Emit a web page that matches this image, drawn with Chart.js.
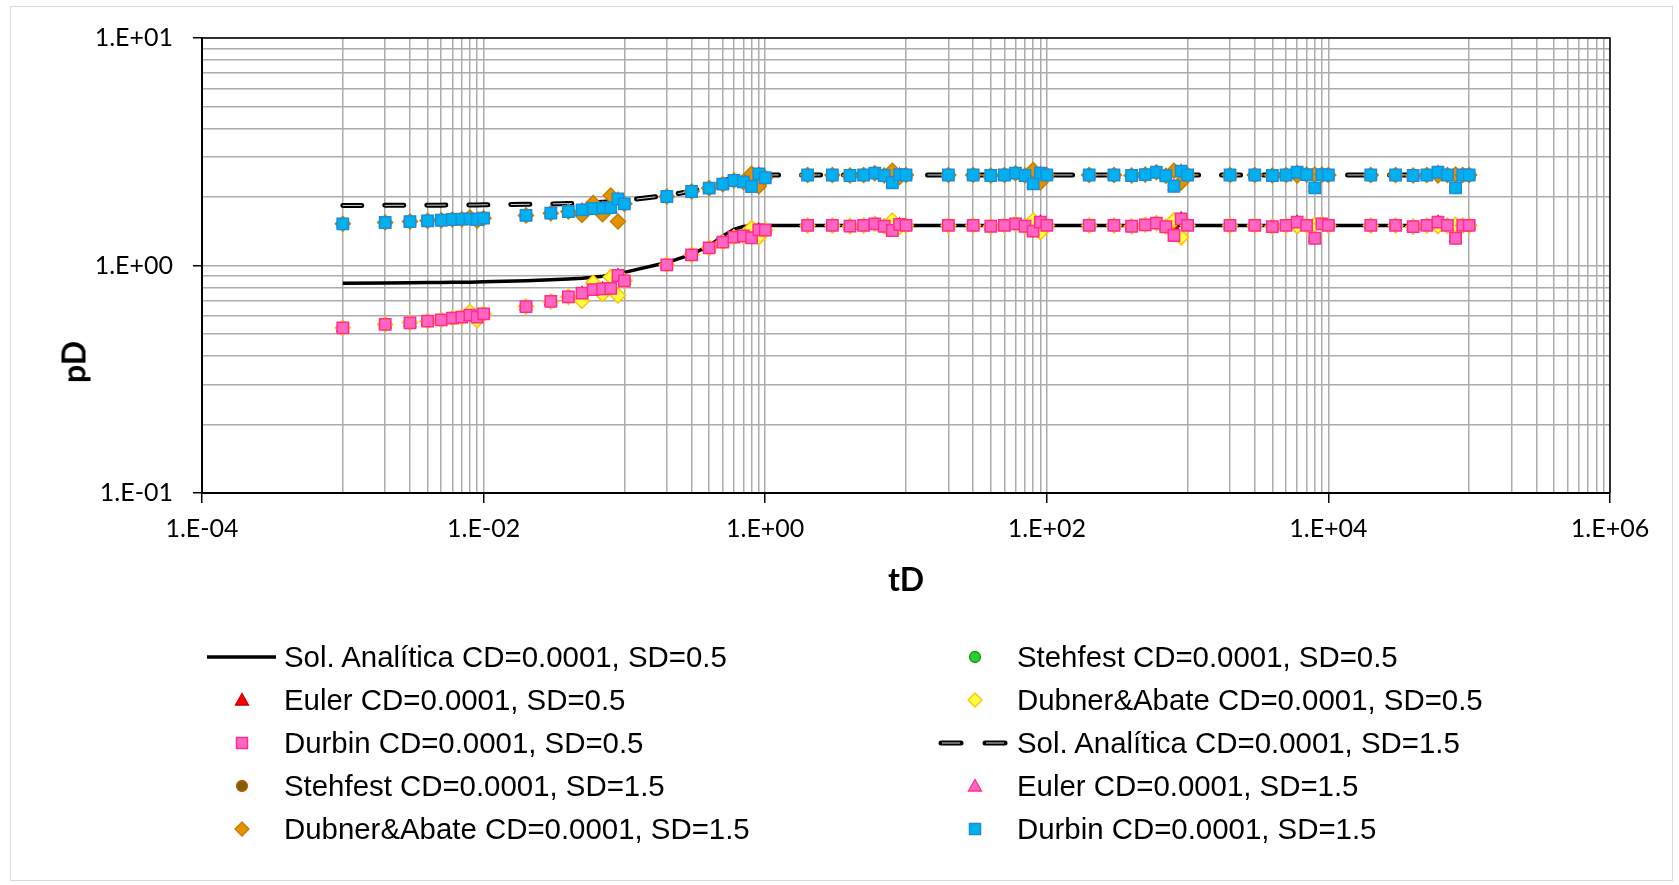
<!DOCTYPE html>
<html>
<head>
<meta charset="utf-8">
<script src="https://cdn.jsdelivr.net/npm/chart.js@4/dist/chart.umd.min.js"></script>
<style>
  html, body { margin: 0; padding: 0; background: #fff; }
  #wrap { position: relative; width: 1679px; height: 885px; overflow: hidden; }
  #frame { position: absolute; left: 10px; top: 6px; width: 1663px; height: 875px; border: 1px solid #d9d9d9; box-sizing: border-box; }
  #chart { position: absolute; left: 0; top: 0; }
  #ytitle { position: absolute; left: 73px; top: 362px; font: bold 32px Lato, sans-serif; color: #000;
            transform: translate(-50%, -50%) rotate(-90deg); white-space: nowrap; }
  .item { position: absolute; height: 40px; display: flex; align-items: center; white-space: nowrap;
          font: 29.4px "Liberation Sans", Arial, sans-serif; color: #000; }
  .item svg { flex: none; margin-right: 4px; }
</style>
</head>
<body>
<div id="wrap">
  <div id="frame"></div>
  <canvas id="chart" width="1679" height="885"></canvas>
  <div id="ytitle">pD</div>
  <div id="legend"></div>
</div>
<script>
// dimensionless time, shared by every series
const tD = [
  0.001, 0.002, 0.003, 0.004, 0.005, 0.006, 0.007, 0.008, 0.009,
  0.01, 0.02, 0.03, 0.04, 0.05, 0.06, 0.07, 0.08, 0.09,
  0.1, 0.2, 0.3, 0.4, 0.5, 0.6, 0.7, 0.8, 0.9,
  1, 2, 3, 4, 5, 6, 7, 8, 9,
  10, 20, 30, 40, 50, 60, 70, 80, 90,
  100, 200, 300, 400, 500, 600, 700, 800, 900,
  1000, 2000, 3000, 4000, 5000, 6000, 7000, 8000, 9000,
  10000, 20000, 30000, 40000, 50000, 60000, 70000, 80000, 90000,
  100000
];

const analiticaSD05 = [
  0.836, 0.838, 0.840, 0.841, 0.842, 0.843, 0.844, 0.845, 0.846,
  0.848, 0.857, 0.865, 0.872, 0.879, 0.887, 0.896, 0.907, 0.920,
  0.933, 1.030, 1.120, 1.220, 1.350, 1.440, 1.485, 1.497, 1.500,
  1.5, 1.5, 1.5, 1.5, 1.5, 1.5, 1.5, 1.5, 1.5,
  1.5, 1.5, 1.5, 1.5, 1.5, 1.5, 1.5, 1.5, 1.5,
  1.5, 1.5, 1.5, 1.5, 1.5, 1.5, 1.5, 1.5, 1.5,
  1.5, 1.5, 1.5, 1.5, 1.5, 1.5, 1.5, 1.5, 1.5,
  1.5, 1.5, 1.5, 1.5, 1.5, 1.5, 1.5, 1.5, 1.5,
  1.5
];
const stehfestSD05 = [
  0.532, 0.551, 0.560, 0.569, 0.577, 0.587, 0.593, 0.605, 0.593,
  0.613, 0.660, 0.695, 0.728, 0.756, 0.783, 0.790, 0.793, 0.904,
  0.856, 1.007, 1.114, 1.196, 1.266, 1.332, 1.350, 1.324, 1.435,
  1.430, 1.500, 1.500, 1.490, 1.500, 1.525, 1.488, 1.425, 1.514,
  1.500, 1.500, 1.500, 1.488, 1.500, 1.525, 1.488, 1.415, 1.550,
  1.500, 1.500, 1.500, 1.488, 1.510, 1.535, 1.480, 1.355, 1.604,
  1.500, 1.500, 1.500, 1.483, 1.500, 1.550, 1.500, 1.318, 1.525,
  1.500, 1.500, 1.500, 1.483, 1.500, 1.550, 1.500, 1.318, 1.500,
  1.500
];
const eulerSD05 = [
  0.532, 0.551, 0.560, 0.569, 0.577, 0.587, 0.593, 0.605, 0.593,
  0.613, 0.660, 0.695, 0.728, 0.756, 0.783, 0.790, 0.793, 0.904,
  0.856, 1.007, 1.114, 1.196, 1.266, 1.332, 1.350, 1.324, 1.435,
  1.430, 1.500, 1.500, 1.490, 1.500, 1.525, 1.488, 1.425, 1.514,
  1.500, 1.500, 1.500, 1.488, 1.500, 1.525, 1.488, 1.415, 1.550,
  1.500, 1.500, 1.500, 1.488, 1.510, 1.535, 1.480, 1.470, 1.604,
  1.500, 1.500, 1.500, 1.483, 1.500, 1.550, 1.500, 1.318, 1.525,
  1.500, 1.500, 1.500, 1.483, 1.500, 1.550, 1.500, 1.318, 1.500,
  1.500
];
const dubnerSD05 = [
  0.532, 0.551, 0.560, 0.569, 0.577, 0.587, 0.593, 0.625, 0.575,
  0.613, 0.660, 0.695, 0.728, 0.700, 0.840, 0.750, 0.890, 0.738,
  0.856, 1.007, 1.114, 1.196, 1.266, 1.332, 1.350, 1.460, 1.330,
  1.430, 1.500, 1.500, 1.490, 1.500, 1.525, 1.488, 1.577, 1.480,
  1.500, 1.500, 1.500, 1.488, 1.500, 1.525, 1.488, 1.577, 1.400,
  1.500, 1.500, 1.500, 1.488, 1.510, 1.535, 1.480, 1.580, 1.330,
  1.500, 1.500, 1.500, 1.483, 1.500, 1.490, 1.500, 1.510, 1.525,
  1.500, 1.500, 1.500, 1.483, 1.500, 1.490, 1.500, 1.510, 1.500,
  1.500
];
const durbinSD05 = [
  0.532, 0.551, 0.560, 0.569, 0.577, 0.587, 0.593, 0.605, 0.593,
  0.613, 0.660, 0.695, 0.728, 0.756, 0.783, 0.790, 0.793, 0.904,
  0.856, 1.007, 1.114, 1.196, 1.266, 1.332, 1.350, 1.324, 1.435,
  1.430, 1.500, 1.500, 1.490, 1.500, 1.525, 1.488, 1.425, 1.514,
  1.500, 1.500, 1.500, 1.488, 1.500, 1.525, 1.488, 1.415, 1.550,
  1.500, 1.500, 1.500, 1.488, 1.510, 1.535, 1.480, 1.355, 1.604,
  1.500, 1.500, 1.500, 1.483, 1.500, 1.550, 1.500, 1.318, 1.525,
  1.500, 1.500, 1.500, 1.483, 1.500, 1.550, 1.500, 1.318, 1.500,
  1.500
];

const analiticaSD15 = [
  1.836, 1.838, 1.840, 1.841, 1.842, 1.843, 1.844, 1.845, 1.846,
  1.848, 1.857, 1.865, 1.872, 1.879, 1.887, 1.896, 1.907, 1.920,
  1.933, 2.030, 2.120, 2.220, 2.350, 2.440, 2.485, 2.497, 2.500,
  2.5, 2.5, 2.5, 2.5, 2.5, 2.5, 2.5, 2.5, 2.5,
  2.5, 2.5, 2.5, 2.5, 2.5, 2.5, 2.5, 2.5, 2.5,
  2.5, 2.5, 2.5, 2.5, 2.5, 2.5, 2.5, 2.5, 2.5,
  2.5, 2.5, 2.5, 2.5, 2.5, 2.5, 2.5, 2.5, 2.5,
  2.5, 2.5, 2.5, 2.5, 2.5, 2.5, 2.5, 2.5, 2.5,
  2.5
];
const stehfestSD15 = [
  1.525, 1.545, 1.560, 1.571, 1.581, 1.593, 1.598, 1.604, 1.593,
  1.614, 1.660, 1.698, 1.727, 1.757, 1.780, 1.787, 1.798, 1.960,
  1.867, 2.010, 2.115, 2.188, 2.277, 2.364, 2.330, 2.225, 2.530,
  2.430, 2.500, 2.500, 2.486, 2.500, 2.545, 2.486, 2.310, 2.510,
  2.500, 2.500, 2.500, 2.486, 2.500, 2.545, 2.486, 2.286, 2.545,
  2.500, 2.500, 2.500, 2.486, 2.510, 2.570, 2.480, 2.230, 2.600,
  2.500, 2.500, 2.500, 2.486, 2.500, 2.570, 2.510, 2.195, 2.510,
  2.500, 2.500, 2.500, 2.486, 2.500, 2.570, 2.500, 2.195, 2.500,
  2.500
];
const eulerSD15 = [
  1.525, 1.545, 1.560, 1.571, 1.581, 1.593, 1.598, 1.604, 1.593,
  1.614, 1.660, 1.698, 1.727, 1.757, 1.780, 1.787, 1.798, 1.960,
  1.867, 2.010, 2.115, 2.188, 2.277, 2.364, 2.330, 2.225, 2.530,
  2.430, 2.500, 2.500, 2.486, 2.500, 2.545, 2.486, 2.310, 2.510,
  2.500, 2.500, 2.500, 2.486, 2.500, 2.545, 2.486, 2.286, 2.545,
  2.500, 2.500, 2.500, 2.486, 2.510, 2.570, 2.480, 2.230, 2.600,
  2.500, 2.500, 2.500, 2.486, 2.500, 2.570, 2.510, 2.195, 2.510,
  2.500, 2.500, 2.500, 2.486, 2.500, 2.570, 2.500, 2.195, 2.500,
  2.500
];
const dubnerSD15 = [
  1.525, 1.545, 1.560, 1.571, 1.581, 1.593, 1.598, 1.625, 1.575,
  1.614, 1.660, 1.698, 1.727, 1.670, 1.880, 1.680, 2.030, 1.560,
  1.867, 2.010, 2.115, 2.188, 2.277, 2.364, 2.330, 2.530, 2.230,
  2.430, 2.500, 2.500, 2.486, 2.500, 2.545, 2.486, 2.610, 2.450,
  2.500, 2.500, 2.500, 2.486, 2.500, 2.545, 2.486, 2.630, 2.320,
  2.500, 2.500, 2.500, 2.486, 2.510, 2.570, 2.480, 2.610, 2.320,
  2.500, 2.500, 2.500, 2.486, 2.500, 2.490, 2.510, 2.510, 2.510,
  2.500, 2.500, 2.500, 2.486, 2.500, 2.490, 2.500, 2.510, 2.500,
  2.500
];
const durbinSD15 = [
  1.525, 1.545, 1.560, 1.571, 1.581, 1.593, 1.598, 1.604, 1.593,
  1.614, 1.660, 1.698, 1.727, 1.757, 1.780, 1.787, 1.798, 1.960,
  1.867, 2.010, 2.115, 2.188, 2.277, 2.364, 2.330, 2.225, 2.530,
  2.430, 2.500, 2.500, 2.486, 2.500, 2.545, 2.486, 2.310, 2.510,
  2.500, 2.500, 2.500, 2.486, 2.500, 2.545, 2.486, 2.286, 2.545,
  2.500, 2.500, 2.500, 2.486, 2.510, 2.570, 2.480, 2.230, 2.600,
  2.500, 2.500, 2.500, 2.486, 2.500, 2.570, 2.510, 2.195, 2.510,
  2.500, 2.500, 2.500, 2.486, 2.500, 2.570, 2.500, 2.195, 2.500,
  2.500
];

const xTickValues = [1e-4, 1e-2, 1, 1e2, 1e4, 1e6];
const xTickLabels = ["1.E-04", "1.E-02", "1.E+00", "1.E+02", "1.E+04", "1.E+06"];
const yTickValues = [0.1, 1, 10];
const yTickLabels = ["1.E-01", "1.E+00", "1.E+01"];

const gridColour = "#ababab";
const dash = [19, 23];

const toPoints = values => tD.map((t, i) => ({ x: t, y: values[i] }));

// Excel-like gridlines: x gets minors only in the odd decade of each 2-decade step
const xGrid = [];
xTickValues.forEach((v, i) => {
  xGrid.push(v);
  if (i < xTickValues.length - 1) {
    for (let m = 1; m <= 9; m++) xGrid.push(v * 10 * m);
  }
});
const yGrid = [];
yTickValues.forEach((v, i) => {
  if (i < yTickValues.length - 1) {
    for (let m = 1; m <= 9; m++) yGrid.push(v * m);
  } else {
    yGrid.push(v);
  }
});

const matchIndex = (list, v) => list.findIndex(t => Math.abs(Math.log10(t) - Math.log10(v)) < 1e-6);

function markerSet(label, values, pointStyle, radius, fill, stroke, order) {
  return {
    label,
    data: toPoints(values),
    showLine: false,
    pointStyle,
    pointRadius: radius,
    pointBackgroundColor: fill,
    pointBorderColor: stroke,
    pointBorderWidth: 1.5,
    backgroundColor: fill,
    borderColor: stroke,
    order
  };
}

const series = [
  { label: "Sol. Analítica CD=0.0001, SD=0.5", kind: "line" },
  { label: "Stehfest CD=0.0001, SD=0.5", kind: "circle", fill: "#2ecc2e", stroke: "#139a13" },
  { label: "Euler CD=0.0001, SD=0.5", kind: "triangle", fill: "#ff0000", stroke: "#c00000" },
  { label: "Dubner&Abate CD=0.0001, SD=0.5", kind: "diamond", fill: "#ffff40", stroke: "#ffc000" },
  { label: "Durbin CD=0.0001, SD=0.5", kind: "rect", fill: "#ff66c4", stroke: "#ff2d8c" },
  { label: "Sol. Analítica CD=0.0001, SD=1.5", kind: "dash" },
  { label: "Stehfest CD=0.0001, SD=1.5", kind: "circle", fill: "#7f6000", stroke: "#c55a11" },
  { label: "Euler CD=0.0001, SD=1.5", kind: "triangle", fill: "#ff66c4", stroke: "#ff2d8c" },
  { label: "Dubner&Abate CD=0.0001, SD=1.5", kind: "diamond", fill: "#e69200", stroke: "#c08000" },
  { label: "Durbin CD=0.0001, SD=1.5", kind: "rect", fill: "#00b0f0", stroke: "#1a8fd6" }
];

const datasets = [
  {
    label: series[0].label, data: toPoints(analiticaSD05), showLine: true,
    borderColor: "#000", borderWidth: 3.5, pointRadius: 0, order: 9
  },
  markerSet(series[1].label, stehfestSD05, "circle", 5.5, series[1].fill, series[1].stroke, 8),
  markerSet(series[2].label, eulerSD05, "triangle", 6.5, series[2].fill, series[2].stroke, 7),
  markerSet(series[3].label, dubnerSD05, "rectRot", 7.5, series[3].fill, series[3].stroke, 6),
  markerSet(series[4].label, durbinSD05, "rect", 8, series[4].fill, series[4].stroke, 5),
  {
    label: series[5].label, data: toPoints(analiticaSD15), showLine: true,
    borderColor: "#000", borderWidth: 5, borderDash: dash, borderCapStyle: "round",
    pointRadius: 0, order: 4
  },
  {
    label: "inner", data: toPoints(analiticaSD15), showLine: true,
    borderColor: "#d8d8d8", borderWidth: 1, borderDash: dash, pointRadius: 0, order: 3.5
  },
  markerSet(series[6].label, stehfestSD15, "circle", 5.5, series[6].fill, series[6].stroke, 3),
  markerSet(series[7].label, eulerSD15, "triangle", 6.5, series[7].fill, series[7].stroke, 2),
  markerSet(series[8].label, dubnerSD15, "rectRot", 7.5, series[8].fill, series[8].stroke, 1),
  markerSet(series[9].label, durbinSD15, "rect", 8, series[9].fill, series[9].stroke, 0)
];

const plotFrame = {
  id: "plotFrame",
  afterDraw(chart) {
    const { ctx, chartArea: a } = chart;
    ctx.save();
    ctx.strokeStyle = "#000";
    ctx.lineWidth = 1.5;
    ctx.beginPath();
    ctx.moveTo(a.left, a.top);
    ctx.lineTo(a.right, a.top);
    ctx.lineTo(a.right, a.bottom);
    ctx.stroke();
    ctx.restore();
  }
};

Chart.defaults.font.family = "Lato";
Chart.defaults.color = "#000";

new Chart(document.getElementById("chart"), {
  type: "scatter",
  data: { datasets },
  options: {
    responsive: false,
    animation: false,
    layout: { padding: { left: 0, top: 38, right: 69, bottom: 280 } },
    plugins: { legend: { display: false }, tooltip: { enabled: false } },
    scales: {
      x: {
        type: "logarithmic",
        min: 1e-4,
        max: 1e6,
        afterBuildTicks: axis => { axis.ticks = xGrid.map(v => ({ value: v })); },
        afterFit: axis => { axis.height = 112; },
        ticks: {
          autoSkip: false,
          maxRotation: 0,
          padding: 11,
          font: { size: 25 },
          callback: v => {
            const i = matchIndex(xTickValues, v);
            return i >= 0 ? xTickLabels[i] : "";
          }
        },
        grid: {
          color: gridColour,
          lineWidth: 1.5,
          tickLength: 10,
          tickColor: c => (c.tick && matchIndex(xTickValues, c.tick.value) >= 0 ? "#000" : "rgba(0,0,0,0)"),
          tickWidth: 1.5
        },
        border: { color: "#000", width: 2 },
        title: {
          display: true,
          text: "tD",
          font: { size: 32, weight: "bold" },
          padding: { top: 0, bottom: 5 }
        }
      },
      y: {
        type: "logarithmic",
        min: 0.1,
        max: 10,
        afterBuildTicks: axis => { axis.ticks = yGrid.map(v => ({ value: v })); },
        afterFit: axis => { axis.width = 202; },
        ticks: {
          autoSkip: false,
          padding: 20,
          font: { size: 25 },
          callback: v => {
            const i = matchIndex(yTickValues, v);
            return i >= 0 ? yTickLabels[i] : "";
          }
        },
        grid: {
          color: gridColour,
          lineWidth: 1.5,
          tickLength: 9,
          tickColor: c => (c.tick && matchIndex(yTickValues, c.tick.value) >= 0 ? "#000" : "rgba(0,0,0,0)"),
          tickWidth: 1.5
        },
        border: { color: "#000", width: 2 }
      }
    }
  },
  plugins: [plotFrame]
});

// two-column legend, Excel order read row by row
function swatch(s) {
  const cx = 38, cy = 20;
  let body = "";
  if (s.kind === "line") {
    body = `<line x1="3" y1="${cy}" x2="72" y2="${cy}" stroke="#000" stroke-width="3.5"/>`;
  } else if (s.kind === "dash") {
    body = `<line x1="4" y1="${cy}" x2="24" y2="${cy}" stroke="#000" stroke-width="5" stroke-linecap="round"/>` +
           `<line x1="48" y1="${cy}" x2="68" y2="${cy}" stroke="#000" stroke-width="5" stroke-linecap="round"/>` +
           `<line x1="5" y1="${cy}" x2="23" y2="${cy}" stroke="#d8d8d8" stroke-width="1"/>` +
           `<line x1="49" y1="${cy}" x2="67" y2="${cy}" stroke="#d8d8d8" stroke-width="1"/>`;
  } else if (s.kind === "circle") {
    body = `<circle cx="${cx}" cy="${cy}" r="5.5" fill="${s.fill}" stroke="${s.stroke}" stroke-width="1.3"/>`;
  } else if (s.kind === "triangle") {
    body = `<polygon points="${cx},${cy - 6.5} ${cx + 6.5},${cy + 5} ${cx - 6.5},${cy + 5}" fill="${s.fill}" stroke="${s.stroke}" stroke-width="1.3"/>`;
  } else if (s.kind === "rect") {
    body = `<rect x="${cx - 5.5}" y="${cy - 5.5}" width="11" height="11" fill="${s.fill}" stroke="${s.stroke}" stroke-width="1.5"/>`;
  } else if (s.kind === "diamond") {
    body = `<polygon points="${cx},${cy - 7} ${cx + 7},${cy} ${cx},${cy + 7} ${cx - 7},${cy}" fill="${s.fill}" stroke="${s.stroke}" stroke-width="1.3"/>`;
  }
  return `<svg width="76" height="40" viewBox="0 0 76 40">${body}</svg>`;
}

const legendCols = [204, 937];
const legendRows = [657, 700, 743, 786, 829];
const legend = document.getElementById("legend");
series.forEach((s, i) => {
  const el = document.createElement("div");
  el.className = "item";
  el.style.left = legendCols[i % 2] + "px";
  el.style.top = (legendRows[Math.floor(i / 2)] - 20) + "px";
  el.innerHTML = swatch(s);
  const span = document.createElement("span");
  span.textContent = s.label;
  el.appendChild(span);
  legend.appendChild(el);
});
</script>
</body>
</html>
